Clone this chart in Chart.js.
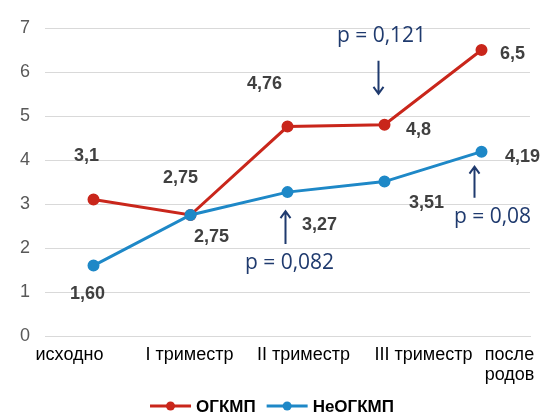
<!DOCTYPE html>
<html>
<head>
<meta charset="utf-8">
<script src="https://cdn.jsdelivr.net/npm/chart.js@4/dist/chart.umd.min.js"></script>
<style>
  body { margin: 0; background: #fff; }
  #wrap { width: 544px; height: 414px; position: relative; }
</style>
</head>
<body>
<div id="wrap"><canvas id="myChart"></canvas></div>
<script>
var categories = ['исходно', 'I триместр', 'II триместр', 'III триместр', ['после', 'родов']];
var ogkmp = [3.1, 2.75, 4.76, 4.8, 6.5];
var neOgkmp = [1.60, 2.75, 3.27, 3.51, 4.19];
var yTicks = [0, 1, 2, 3, 4, 5, 6, 7];
var seriesNames = ['ОГКМП', 'НеОГКМП'];
var pNotes = ['p = 0,121', 'p = 0,082', 'p = 0,08'];

var red = '#C9261B',
    blue = '#1E88C7',
    navy = '#1F3A6E';

/* label offsets from each point (px) */
var redOffsets = [[-7, -44], [-10, -37], [-23, -43], [34, 5], [31, 4]];
var blueOffsets = [[-6, 28], [21, 22], [32, 33], [42, 21], [41, 5]];
/* x label shifts from category centre */
var xShift = [-24, -1, 16, 39, 28];

function fmt(v, dec) {
    var s = dec ? v.toFixed(dec) : String(v);
    return s.replace('.', ',');
}

// p-value notes: dataset, point index, text offset, arrow from / to
var notes = [
    { ds: 1, i: 3, text: pNotes[0], tx: -3, ty: -89, ax: -6, y1: -64, y2: -31 },
    { ds: 0, i: 2, text: pNotes[1], tx: 2, ty: 71, ax: -2, y1: 52, y2: 19 },
    { ds: 0, i: 4, text: pNotes[2], tx: 11, ty: 65, ax: -7, y1: 46, y2: 15 }
];

function arrow(ctx, x, yFrom, yTo) {
    var dir = yTo > yFrom ? 1 : -1;
    ctx.beginPath();
    ctx.moveTo(x, yFrom);
    ctx.lineTo(x, yTo);
    ctx.moveTo(x - 5, yTo - dir * 7);
    ctx.lineTo(x, yTo);
    ctx.lineTo(x + 5, yTo - dir * 7);
    ctx.stroke();
}

const extras = {
    id: 'extras',
    afterDatasetsDraw(chart) {
        var ctx = chart.ctx;
        var xs = chart.scales.x;
        ctx.save();

        /* value labels */
        ctx.font = 'bold 18px "Liberation Sans", Arial';
        ctx.fillStyle = '#404040';
        ctx.textAlign = 'center';
        ctx.textBaseline = 'middle';
        chart.data.datasets.forEach(function (d, di) {
            var meta = chart.getDatasetMeta(di);
            var offs = di === 0 ? blueOffsets : redOffsets;
            var dec = di === 0 ? 2 : 0;
            meta.data.forEach(function (pt, i) {
                ctx.fillText(fmt(d.data[i], dec), pt.x + offs[i][0], pt.y + offs[i][1]);
            });
        });

        /* p notes with arrows */
        ctx.font = '21px "Open Sans"';
        ctx.fillStyle = navy;
        ctx.strokeStyle = navy;
        ctx.lineWidth = 2;
        notes.forEach(function (n) {
            var pt = chart.getDatasetMeta(n.ds).data[n.i];
            ctx.fillText(n.text, pt.x + n.tx, pt.y + n.ty);
            arrow(ctx, pt.x + n.ax, pt.y + n.y1, pt.y + n.y2);
        });

        /* x labels */
        ctx.font = '18px "Liberation Sans", Arial';
        ctx.fillStyle = '#000';
        var base = chart.chartArea.bottom + 19;
        categories.forEach(function (c, i) {
            var x = xs.getPixelForValue(i) + xShift[i];
            var lines = Array.isArray(c) ? c : [c];
            lines.forEach(function (t, k) {
                ctx.fillText(t, x, base + k * 20);
            });
        });

        /* legend */
        ctx.font = 'bold 17px "Liberation Sans", Arial';
        ctx.textAlign = 'left';
        var colors = [red, blue];
        var widths = seriesNames.map(function (s) { return 41 + 5 + ctx.measureText(s).width; });
        var total = widths[0] + widths[1] + 11;
        var lx = chart.width / 2 - total / 2;
        var ly = 406;
        seriesNames.forEach(function (s, k) {
            ctx.strokeStyle = colors[k];
            ctx.fillStyle = colors[k];
            ctx.lineWidth = 3;
            ctx.beginPath();
            ctx.moveTo(lx, ly);
            ctx.lineTo(lx + 41, ly);
            ctx.stroke();
            ctx.beginPath();
            ctx.arc(lx + 20.5, ly, 4.5, 0, Math.PI * 2);
            ctx.fill();
            ctx.fillStyle = '#000';
            ctx.fillText(s, lx + 46, ly + 1);
            lx += widths[k] + 11;
        });
        ctx.restore();
    }
};

const data = {
    labels: categories,
    datasets: [{
        label: seriesNames[1],
        data: neOgkmp,
        borderColor: blue,
        backgroundColor: blue,
        borderWidth: 3,
        pointRadius: 4.5,
        pointHoverRadius: 4.5,
        order: 1
    }, {
        label: seriesNames[0],
        data: ogkmp,
        borderColor: red,
        backgroundColor: red,
        borderWidth: 3,
        pointRadius: 4.5,
        pointHoverRadius: 4.5,
        order: 2
    }]
};

const config = {
    type: 'line',
    data: data,
    options: {
        responsive: true,
        maintainAspectRatio: false,
        animation: false,
        layout: { padding: { top: 28, right: 14, bottom: 0, left: 0 } },
        plugins: {
            legend: { display: false },
            tooltip: { enabled: false }
        },
        scales: {
            x: {
                offset: true,
                grid: { display: false },
                border: { display: true, color: '#D9D9D9', width: 1 },
                ticks: { display: false },
                afterFit: function (s) { s.height = 78; }
            },
            y: {
                min: yTicks[0],
                max: yTicks[yTicks.length - 1],
                afterBuildTicks: function (s) { s.ticks = yTicks.map(function (v) { return { value: v }; }); },
                grid: { color: '#D9D9D9', lineWidth: 1, drawTicks: false },
                border: { display: false },
                ticks: {
                    padding: 15,
                    color: '#595959',
                    font: { family: '"Liberation Sans", Arial', size: 18 }
                },
                afterFit: function (s) { s.width = 45; }
            }
        }
    },
    plugins: [extras]
};

const myChart = new Chart(document.getElementById('myChart'), config);
</script>
</body>
</html>
